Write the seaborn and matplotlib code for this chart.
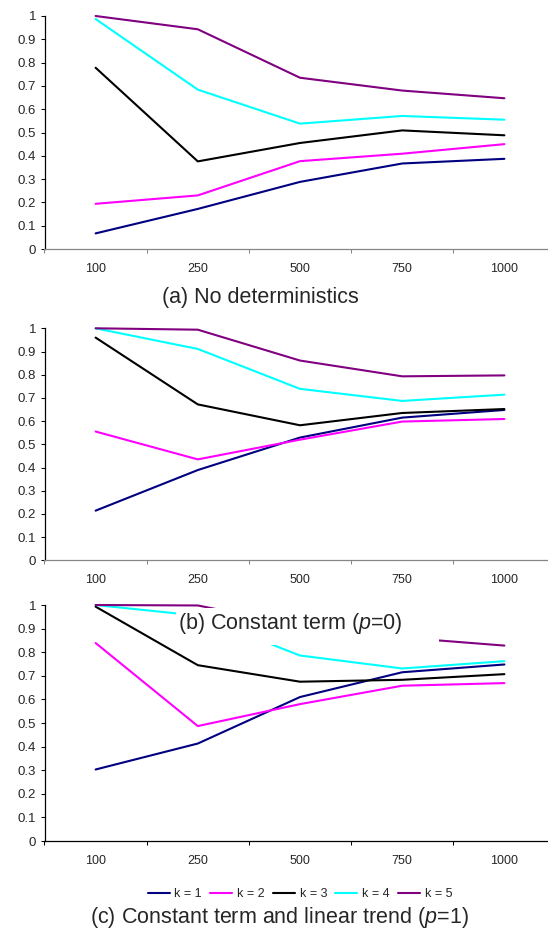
import numpy as np
import pandas as pd
import matplotlib
matplotlib.use("Agg")
import matplotlib.pyplot as plt
from matplotlib.patches import Rectangle
import seaborn as sns

# -------------------------------
# Data
# -------------------------------
sample_sizes = ["100", "250", "500", "750", "1000"]
k_labels = ["k = 1", "k = 2", "k = 3", "k = 4", "k = 5"]
colors = ["#000080", "#FF00FF", "#000000", "#00FFFF", "#800080"]

# (a) No deterministics
a_k1 = [0.067, 0.172, 0.288, 0.367, 0.387]
a_k2 = [0.194, 0.230, 0.377, 0.409, 0.450]
a_k3 = [0.778, 0.376, 0.455, 0.509, 0.488]
a_k4 = [0.987, 0.684, 0.538, 0.571, 0.555]
a_k5 = [1.000, 0.943, 0.735, 0.680, 0.647]

# (b) Constant term
b_k1 = [0.214, 0.389, 0.529, 0.615, 0.648]
b_k2 = [0.555, 0.435, 0.520, 0.598, 0.609]
b_k3 = [0.960, 0.672, 0.582, 0.635, 0.652]
b_k4 = [1.000, 0.911, 0.739, 0.687, 0.714]
b_k5 = [1.000, 0.994, 0.861, 0.793, 0.797]

# (c) Constant term and linear trend
c_k1 = [0.303, 0.413, 0.610, 0.715, 0.748]
c_k2 = [0.839, 0.487, 0.580, 0.658, 0.669]
c_k3 = [0.993, 0.745, 0.675, 0.683, 0.707]
c_k4 = [1.000, 0.955, 0.786, 0.731, 0.762]
c_k5 = [1.000, 0.998, 0.913, 0.862, 0.828]

panels = [
    ([a_k1, a_k2, a_k3, a_k4, a_k5], "#868686"),
    ([b_k1, b_k2, b_k3, b_k4, b_k5], "#868686"),
    ([c_k1, c_k2, c_k3, c_k4, c_k5], "#000000"),
]

sns.set_style("white")
plt.rcParams["font.family"] = ["Liberation Sans", "DejaVu Sans"]
plt.rcParams["mathtext.fontset"] = "custom"
plt.rcParams["mathtext.rm"] = "Liberation Sans"
plt.rcParams["mathtext.it"] = "Liberation Sans:italic"


def long_frame(series):
    rows = []
    for lab, vals in zip(k_labels, series):
        for n, v in zip(sample_sizes, vals):
            rows.append({"n": n, "k": lab, "value": v})
    return pd.DataFrame(rows)


fig = plt.figure(figsize=(5.48, 9.34), dpi=100)
W, H = 548.0, 934.0

# axes boxes in pixels: (top, bottom) of the y range 0..1
boxes = [(16, 249), (328.3, 560.3), (605, 841)]
left_px, width_px = 44.5, 511.0

palette = dict(zip(k_labels, colors))
axes = []
for (series, xcol), (top, bot) in zip(panels, boxes):
    ax = fig.add_axes([left_px / W, 1 - bot / H, width_px / W, (bot - top) / H])
    df = long_frame(series)
    sns.lineplot(data=df, x="n", y="value", hue="k", palette=palette,
                 linewidth=1.5, legend=False, ax=ax, clip_on=False)
    ax.set_xlim(-0.5, 4.5)
    ax.set_ylim(0, 1)
    ax.set_xlabel("")
    ax.set_ylabel("")

    ax.set_yticks(np.arange(0, 1.01, 0.1))
    ax.set_yticklabels([f"{v:g}" for v in np.round(np.arange(0, 1.01, 0.1), 1)])
    ax.set_xticks(np.arange(-0.5, 5.0, 1.0))
    ax.set_xticklabels([])
    ax.set_xticks(range(5), labels=sample_sizes, minor=True)

    ax.tick_params(axis="y", direction="out", length=3, width=0.75,
                   color="black", labelsize=9.5, pad=3, left=True)
    ax.tick_params(axis="x", which="major", direction="out", length=3,
                   width=0.75, color=xcol, bottom=True)
    ax.tick_params(axis="x", which="minor", length=0, labelsize=9, pad=10)

    for s in ["top", "right"]:
        ax.spines[s].set_visible(False)
    ax.spines["left"].set_color("black")
    ax.spines["left"].set_linewidth(0.9)
    ax.spines["bottom"].set_color(xcol)
    ax.spines["bottom"].set_linewidth(0.9)
    ax.grid(False)
    axes.append(ax)

# legend at the bottom
handles = axes[2].get_lines()[:5]
fig.legend(handles, k_labels, loc="center", bbox_to_anchor=(300 / W, 1 - 894 / H),
           ncol=5, frameon=False, fontsize=9, handlelength=1.75,
           handletextpad=0.4, columnspacing=0.65)

# captions
cap_size = 15.5
fig.text(260 / W, 1 - 297 / H, "(a) No deterministics", ha="center", va="center",
         fontsize=cap_size)

# caption (b) sits on a white box over the top of panel (c)
fig.add_artist(Rectangle((176 / W, 1 - 645 / H), (439 - 176) / W, (645 - 608) / H,
                         transform=fig.transFigure, facecolor="white",
                         edgecolor="none", zorder=5))
fig.text(290 / W, 1 - 623 / H, "(b) Constant term ($p$=0)", ha="center", va="center",
         fontsize=cap_size, zorder=6)

fig.text(279 / W, 1 - 918 / H, "(c) Constant term and linear trend ($p$=1)",
         ha="center", va="center", fontsize=cap_size)

fig.savefig("out.png", dpi=100)
